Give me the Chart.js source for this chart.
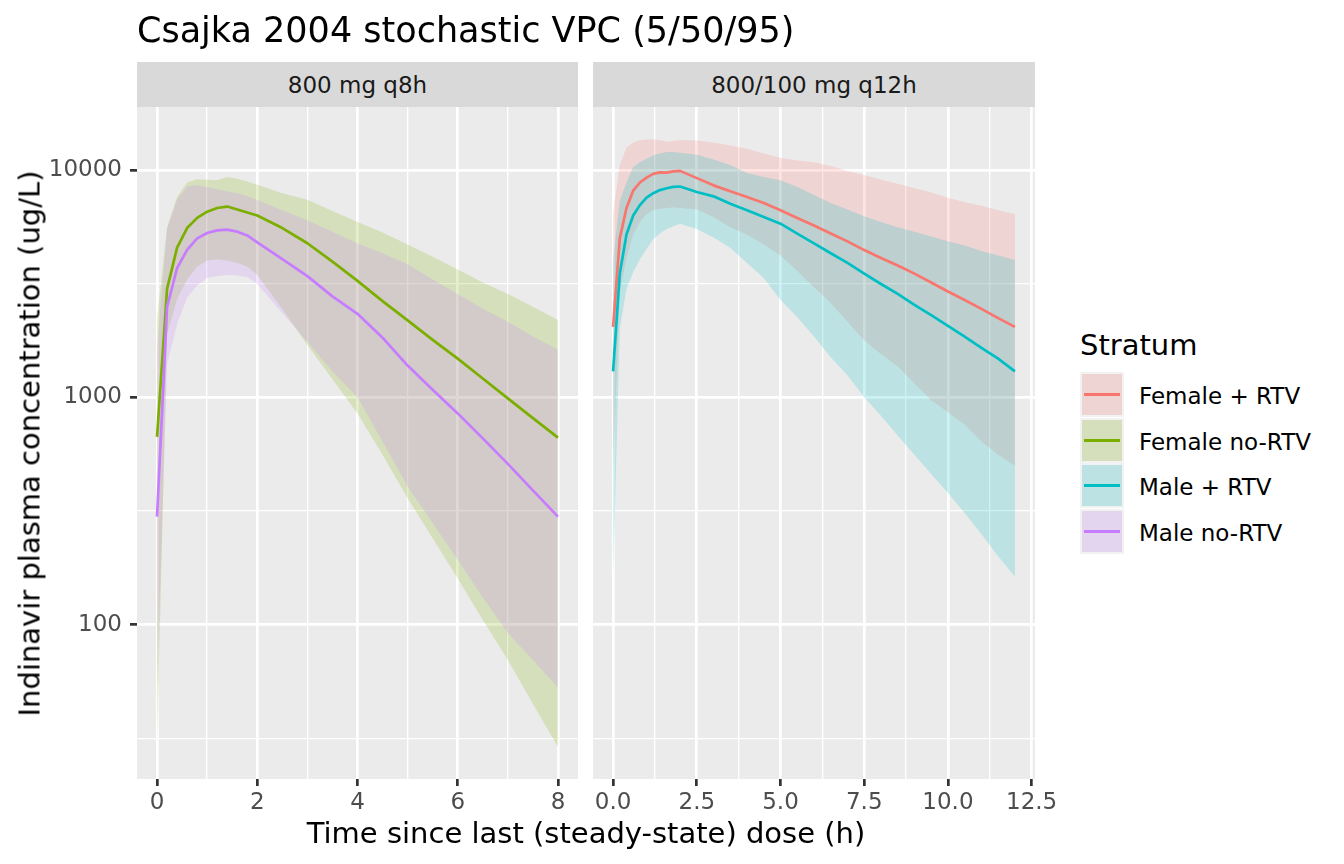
<!DOCTYPE html>
<html>
<head>
<meta charset="utf-8">
<title>Csajka 2004 stochastic VPC</title>
<script src="https://cdn.jsdelivr.net/npm/chart.js@4.4.1/dist/chart.umd.min.js"></script>
<style>
  body { margin: 0; background: #fff; font-family: 'DejaVu Sans', sans-serif; }
  #page { position: relative; width: 1344px; height: 864px; overflow: hidden; }
  canvas { position: absolute; top: 0; }
  .strip { position: absolute; top: 62px; height: 45px; background: #D9D9D9; color: #1A1A1A;
           font-size: 23px; display: flex; align-items: center; justify-content: center; }
  .txt { position: absolute; white-space: nowrap; color: #000; }
  .key { position: absolute; left: 1080px; width: 44px; height: 45px; background: #F2F2F2; }
  .key .fill { position: absolute; left: 2px; top: 2px; right: 2px; bottom: 2px; }
  .key .ln { position: absolute; left: 4px; right: 4px; top: 21px; height: 3px; }
  .lab { position: absolute; left: 1139px; font-size: 23px; line-height: 23px; color: #000; white-space: nowrap; }
</style>
</head>
<body>
<div id="page">
  <canvas id="q8" width="590" height="864" style="left:0"></canvas>
  <canvas id="q12" width="480" height="864" style="left:585px"></canvas>

  <div class="txt" style="left:137px; top:13px; font-size:35px; line-height:35px;">Csajka 2004 stochastic VPC (5/50/95)</div>
  <div class="strip" style="left:137px; width:441px;">800 mg q8h</div>
  <div class="strip" style="left:593px; width:442px;">800/100 mg q12h</div>
  <div class="txt" style="left:137px; width:898px; text-align:center; top:819px; font-size:29px; line-height:29px;">Time since last (steady-state) dose (h)</div>
  <div class="txt" style="left:-320px; width:700px; text-align:center; top:429px; height:29px; font-size:29px; line-height:29px; transform:rotate(-90deg);">Indinavir plasma concentration (ug/L)</div>
  <div class="txt" style="left:1080px; top:331px; font-size:29px; line-height:29px;">Stratum</div>
  <div id="legend"></div>
</div>

<script>
// time grids (h)
const q8Time = [0,0.2,0.4,0.6,0.8,1,1.2,1.4,1.6,1.8,2,2.5,3,3.5,4,4.5,5,5.5,6,6.5,7,7.5,8];
const q12Time = [0,0.2,0.4,0.6,0.8,1,1.2,1.4,1.6,1.8,2,2.5,3,3.5,4,4.5,5,5.5,6,6.5,7,7.5,8,8.5,9,9.5,10,10.5,11,11.5,12];

// 800 mg q8h panel (ug/L): median, 5th, 95th
const femaleNoRtvMed = [670,3000,4550,5550,6150,6550,6800,6900,6700,6500,6300,5550,4760,3950,3250,2650,2180,1790,1480,1210,990,810,665];
const femaleNoRtvLo  = [30,1900,2700,3300,3750,4000,4050,4000,3900,3760,3450,2450,1700,1200,850,560,360,240,160,105,70,45,29];
const femaleNoRtvHi  = [2200,5600,7600,8800,9100,9050,9000,9300,9150,8900,8600,7900,7400,6600,5900,5300,4700,4150,3650,3200,2850,2500,2190];
const maleNoRtvMed = [299,2500,3700,4450,5000,5280,5420,5460,5350,5150,4800,4050,3410,2780,2330,1830,1380,1080,850,660,510,390,299];
const maleNoRtvLo  = [53,1400,2100,2750,3100,3350,3420,3450,3430,3380,3150,2350,1750,1300,1000,640,406,280,193,132,92,70,53];
const maleNoRtvHi  = [1620,5500,7400,8450,8550,8400,8200,8050,7900,7650,7380,6650,6000,5350,4750,4300,3850,3300,2850,2450,2150,1850,1620];

// 800/100 mg q12h panel
const femaleRtvMed = [2040,5000,6800,8100,8800,9250,9600,9750,9730,9850,9900,9200,8550,8050,7600,7150,6650,6150,5700,5250,4850,4440,4100,3800,3500,3200,2920,2680,2450,2230,2040];
const femaleRtvLo  = [500,2900,4100,5200,5900,6400,6650,6750,6800,6850,6800,6700,6200,5600,5200,4700,4200,3600,3050,2600,2150,1780,1550,1370,1150,970,860,760,640,560,500];
const femaleRtvHi  = [6400,10500,12500,13200,13500,13600,13650,13500,13300,13400,13500,13450,13200,12800,12400,11800,11300,11000,10800,10400,9900,9500,9050,8700,8300,7950,7550,7200,6950,6650,6400];
const maleRtvMed = [1300,3500,5200,6300,7000,7550,7900,8150,8300,8420,8450,8000,7650,7100,6650,6200,5800,5250,4750,4300,3900,3500,3150,2850,2550,2300,2060,1850,1650,1480,1300];
const maleRtvLo  = [163,2000,3000,3550,4050,4500,4950,5250,5500,5650,5800,5500,5050,4550,3900,3350,2680,2250,1850,1500,1250,1000,830,680,560,460,380,310,250,200,163];
const maleRtvHi  = [4020,7300,8800,10300,10800,11200,11600,11800,12000,12000,11900,11650,11100,10500,9700,9300,9000,8400,7750,7150,6700,6250,5900,5600,5350,5100,4850,4650,4400,4200,4020];

// ticks
const yMajor = [100, 1000, 10000];
const yMinor = [31.62, 316.2, 3162];
const xMajorQ8 = [0, 2, 4, 6, 8];
const xMinorQ8 = [1, 3, 5, 7];
const xMajorQ12 = [0, 2.5, 5, 7.5, 10, 12.5];
const xMinorQ12 = [1.25, 3.75, 6.25, 8.75, 11.25];

const strata = ['Female + RTV', 'Female no-RTV', 'Male + RTV', 'Male no-RTV'];
const colors = ['#F8766D', '#7CAE00', '#00BFC4', '#C77CFF'];

function pts(t, v) { return t.map((x, i) => ({ x: x, y: v[i] })); }
function alpha(hex, a) {
  const n = parseInt(hex.slice(1), 16);
  return 'rgba(' + (n >> 16) + ',' + ((n >> 8) & 255) + ',' + (n & 255) + ',' + a + ')';
}
function band(t, v, col, fillTo) {
  return { data: pts(t, v), borderColor: 'rgba(0,0,0,0)', borderWidth: 0, pointRadius: 0,
           backgroundColor: col ? alpha(col, 0.2) : 'rgba(0,0,0,0)', fill: fillTo, order: 2 };
}
function median(t, v, col) {
  return { data: pts(t, v), borderColor: col, borderWidth: 2.7, pointRadius: 0, fill: false,
           borderJoinStyle: 'round', order: 0 };
}

Chart.defaults.font.family = "'DejaVu Sans', sans-serif";

const panelBg = {
  id: 'panelBg',
  beforeDraw(chart) {
    const a = chart.chartArea, c = chart.ctx;
    c.save();
    c.fillStyle = '#EBEBEB';
    c.fillRect(a.left, a.top, a.right - a.left, a.bottom - a.top);
    c.restore();
  }
};

function makePanel(id, datasets, xMin, xMax, xMajor, xMinor, xLabel, showY, pad) {
  const isMaj = (arr) => (ctx) => ctx.tick && arr.includes(ctx.tick.value);
  const xm = isMaj(xMajor), ym = isMaj(yMajor);
  return new Chart(document.getElementById(id).getContext('2d'), {
    type: 'line',
    data: { datasets: datasets },
    options: {
      responsive: false, animation: false, devicePixelRatio: 1,
      layout: { padding: pad },
      plugins: { legend: { display: false }, tooltip: { enabled: false } },
      scales: {
        x: {
          type: 'linear', min: xMin, max: xMax, bounds: 'data',
          afterBuildTicks: (s) => { s.ticks = xMajor.concat(xMinor).sort((a, b) => a - b).map(v => ({ value: v })); },
          afterFit: (s) => { s.height = 50; },
          border: { display: false },
          grid: { color: '#FFFFFF', lineWidth: (c) => xm(c) ? 2.7 : 1.35, tickLength: 7,
                  tickColor: (c) => xm(c) ? '#333333' : 'rgba(0,0,0,0)', tickWidth: 2.7 },
          ticks: { autoSkip: false, maxRotation: 0, padding: 3, color: '#4D4D4D', font: { size: 23 },
                   callback: (v) => xMajor.includes(v) ? xLabel(v) : '' }
        },
        y: {
          type: 'logarithmic', min: 21, max: 18900, bounds: 'data',
          afterBuildTicks: (s) => { s.ticks = yMajor.concat(yMinor).sort((a, b) => a - b).map(v => ({ value: v })); },
          afterFit: (s) => { s.width = showY ? 137 : 0; },
          border: { display: false },
          grid: { color: '#FFFFFF', lineWidth: (c) => ym(c) ? 2.7 : 1.35, drawTicks: showY, tickLength: 7,
                  tickColor: (c) => ym(c) ? '#333333' : 'rgba(0,0,0,0)', tickWidth: 2.7 },
          ticks: { display: showY, padding: 8, color: '#4D4D4D', font: { size: 23 },
                   callback: (v) => yMajor.includes(v) ? String(v) : '' }
        }
      }
    },
    plugins: [panelBg]
  });
}

// q8h: ribbons (male drawn over female), then medians
makePanel('q8', [
  band(q8Time, maleNoRtvLo, null, false),
  band(q8Time, maleNoRtvHi, colors[3], 0),
  band(q8Time, femaleNoRtvLo, null, false),
  band(q8Time, femaleNoRtvHi, colors[1], 2),
  median(q8Time, maleNoRtvMed, colors[3]),
  median(q8Time, femaleNoRtvMed, colors[1])
], -0.4, 8.4, xMajorQ8, xMinorQ8, (v) => String(v), true, { left: 0, top: 107, right: 12, bottom: 35 });

// q12h with ritonavir
makePanel('q12', [
  band(q12Time, maleRtvLo, null, false),
  band(q12Time, maleRtvHi, colors[2], 0),
  band(q12Time, femaleRtvLo, null, false),
  band(q12Time, femaleRtvHi, colors[0], 2),
  median(q12Time, maleRtvMed, colors[2]),
  median(q12Time, femaleRtvMed, colors[0])
], -0.6, 12.6, xMajorQ12, xMinorQ12, (v) => v.toFixed(1), false, { left: 8, top: 107, right: 30, bottom: 35 });

// legend
let legendHtml = '';
strata.forEach((name, i) => {
  const top = 372 + i * 45.6;
  legendHtml += '<div class="key" style="top:' + top + 'px">' +
    '<div class="fill" style="background:linear-gradient(' + alpha(colors[i], 0.2) + ',' + alpha(colors[i], 0.2) + '),#EBEBEB"></div>' +
    '<div class="ln" style="background:' + colors[i] + '"></div></div>' +
    '<div class="lab" style="top:' + (top + 13) + 'px">' + name + '</div>';
});
document.getElementById('legend').innerHTML = legendHtml;
</script>
</body>
</html>
